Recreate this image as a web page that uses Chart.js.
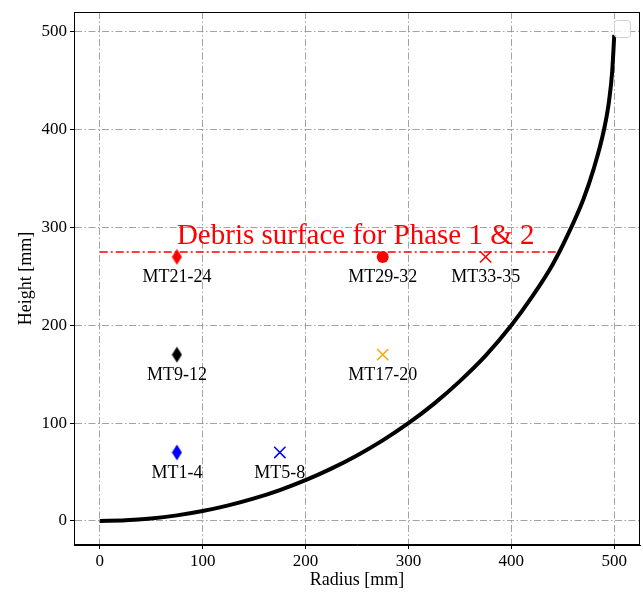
<!DOCTYPE html>
<html>
<head>
<meta charset="utf-8">
<script src="https://cdn.jsdelivr.net/npm/chart.js@4"></script>
<style>
html,body{margin:0;padding:0;background:#fff;}
canvas{display:block;}
</style>
</head>
<body>
<canvas id="c" width="643" height="594"></canvas>
<script>
// ---- data ----
const curveX = [0, 25, 50, 75, 100, 125, 150, 175, 200, 225, 250, 275, 300, 325, 350, 375, 400, 420, 440, 455, 470, 480, 490, 495, 498, 500];
const curveY = [0, 0.6, 2.5, 5.7, 10.1, 15.9, 23, 31.6, 41.7, 53.5, 67, 82.4, 100, 120, 143, 169, 200, 229, 262, 293, 329, 360, 400, 430, 460, 497];
const debrisX = [0, 446.5];
const debrisY = [275, 275];
const debrisText = "Debris surface for Phase 1 & 2";
const debrisTextPos = [75, 283];
const markerLabels = ["MT1-4", "MT5-8", "MT9-12", "MT17-20", "MT21-24", "MT29-32", "MT33-35"];
const markerX = [75, 175, 75, 275, 75, 275, 375];
const markerY = [70, 70, 170, 170, 270, 270, 270];
const markerLabelY = [49, 49, 149, 149, 249, 249, 249];
const markerColors = ["#0000ff", "#0000ff", "#000000", "#ffa500", "#ff0000", "#ff0000", "#ff0000"];
const markerShapes = ["thin_diamond", "x", "thin_diamond", "x", "thin_diamond", "circle", "x"];
const xTicks = [0, 100, 200, 300, 400, 500];
const yTicks = [0, 100, 200, 300, 400, 500];

const FONT = "'Liberation Serif', 'Times New Roman', serif";

function thinDiamond(color) {
  const c = document.createElement('canvas');
  c.width = 11; c.height = 17;
  const g = c.getContext('2d');
  g.fillStyle = color;
  g.beginPath();
  g.moveTo(5.5, 0.5); g.lineTo(10.5, 8.5); g.lineTo(5.5, 16.5); g.lineTo(0.5, 8.5);
  g.closePath(); g.fill();
  return c;
}

const datasets = [];
datasets.push({
  type: 'line',
  data: curveX.map((x, i) => ({x: x, y: curveY[i]})),
  borderColor: '#000', borderWidth: 4, pointRadius: 0,
  cubicInterpolationMode: 'monotone', fill: false, order: 2
});
datasets.push({
  type: 'line',
  data: debrisX.map((x, i) => ({x: x, y: debrisY[i]})),
  borderColor: '#ff0000', borderWidth: 1.5, borderDash: [8, 3, 2, 3],
  pointRadius: 0, fill: false, order: 3
});
markerLabels.forEach((lab, i) => {
  const shape = markerShapes[i];
  const ds = {
    type: 'scatter',
    data: [{x: markerX[i], y: markerY[i]}],
    backgroundColor: markerColors[i], borderColor: markerColors[i], order: 1
  };
  if (shape === 'thin_diamond') {
    ds.pointStyle = thinDiamond(markerColors[i]);
    ds.pointRadius = 8;
  } else if (shape === 'x') {
    ds.pointStyle = 'crossRot';
    ds.pointRadius = 8;
    ds.borderWidth = 1.5;
  } else {
    ds.pointStyle = 'circle';
    ds.pointRadius = 6;
    ds.borderWidth = 0;
  }
  datasets.push(ds);
});

const annotPlugin = {
  id: 'annot',
  afterDatasetsDraw(chart) {
    const ctx = chart.ctx;
    const xs = chart.scales.x, ys = chart.scales.y;
    const a = chart.chartArea;
    ctx.save();
    // frame
    ctx.strokeStyle = '#000'; ctx.lineWidth = 1;
    ctx.strokeRect(a.left + 0.5, a.top + 0.5, a.right - a.left - 1, a.bottom - a.top - 1);
    // marker labels
    ctx.fillStyle = '#000';
    ctx.font = "18px " + FONT;
    ctx.textAlign = 'center'; ctx.textBaseline = 'middle';
    markerLabels.forEach((lab, i) => {
      ctx.fillText(lab, xs.getPixelForValue(markerX[i]), ys.getPixelForValue(markerLabelY[i]));
    });
    // debris text
    ctx.fillStyle = '#ff0000';
    ctx.font = "29px " + FONT;
    ctx.textAlign = 'left'; ctx.textBaseline = 'alphabetic';
    ctx.fillText(debrisText, xs.getPixelForValue(debrisTextPos[0]), ys.getPixelForValue(debrisTextPos[1]));
    // empty legend box
    ctx.strokeStyle = '#d0d0d0'; ctx.lineWidth = 1;
    ctx.fillStyle = 'rgba(255,255,255,0.8)';
    const bx = a.right - 25.5, by = a.top + 8.5, bw = 16, bh = 17, r = 3;
    ctx.beginPath();
    ctx.moveTo(bx + r, by); ctx.lineTo(bx + bw - r, by); ctx.arcTo(bx + bw, by, bx + bw, by + r, r);
    ctx.lineTo(bx + bw, by + bh - r); ctx.arcTo(bx + bw, by + bh, bx + bw - r, by + bh, r);
    ctx.lineTo(bx + r, by + bh); ctx.arcTo(bx, by + bh, bx, by + bh - r, r);
    ctx.lineTo(bx, by + r); ctx.arcTo(bx, by, bx + r, by, r);
    ctx.closePath(); ctx.fill(); ctx.stroke();
    ctx.restore();
  }
};

const gridCfg = {
  color: 'rgba(140,140,140,0.8)', lineWidth: 1,
  drawTicks: true, tickLength: 4, tickColor: '#000', tickWidth: 1
};

new Chart(document.getElementById('c'), {
  type: 'scatter',
  data: {datasets: datasets},
  options: {
    responsive: false, animation: false, devicePixelRatio: 1,
    layout: {autoPadding: false, padding: {top: 12, right: 3, left: 0, bottom: 0}},
    plugins: {legend: {display: false}, tooltip: {enabled: false}},
    scales: {
      x: {
        type: 'linear', min: -25, max: 525,
        afterBuildTicks: s => { s.ticks = xTicks.map(v => ({value: v})); },
        afterFit: s => { s.height = 49; s.paddingLeft = 0; s.paddingRight = 0; },
        grid: gridCfg,
        border: {display: true, color: '#000', width: 1, dash: [7, 2.5, 1.5, 2.5]},
        ticks: {color: '#000', font: {family: FONT, size: 17}, padding: 2, maxRotation: 0},
        title: {display: true, text: 'Radius [mm]', color: '#000', font: {family: FONT, size: 18}, padding: {top: 0, bottom: 3}}
      },
      y: {
        type: 'linear', min: -24.6, max: 520.4,
        afterBuildTicks: s => { s.ticks = yTicks.map(v => ({value: v})); },
        afterFit: s => { s.width = 74; s.paddingTop = 0; s.paddingBottom = 0; },
        grid: gridCfg,
        border: {display: true, color: '#000', width: 1, dash: [7, 2.5, 1.5, 2.5]},
        ticks: {color: '#000', font: {family: FONT, size: 17}, padding: 3},
        title: {display: true, text: 'Height [mm]', color: '#000', font: {family: FONT, size: 18}, padding: {top: 15, bottom: 0}}
      }
    }
  },
  plugins: [annotPlugin]
});
</script>
</body>
</html>
